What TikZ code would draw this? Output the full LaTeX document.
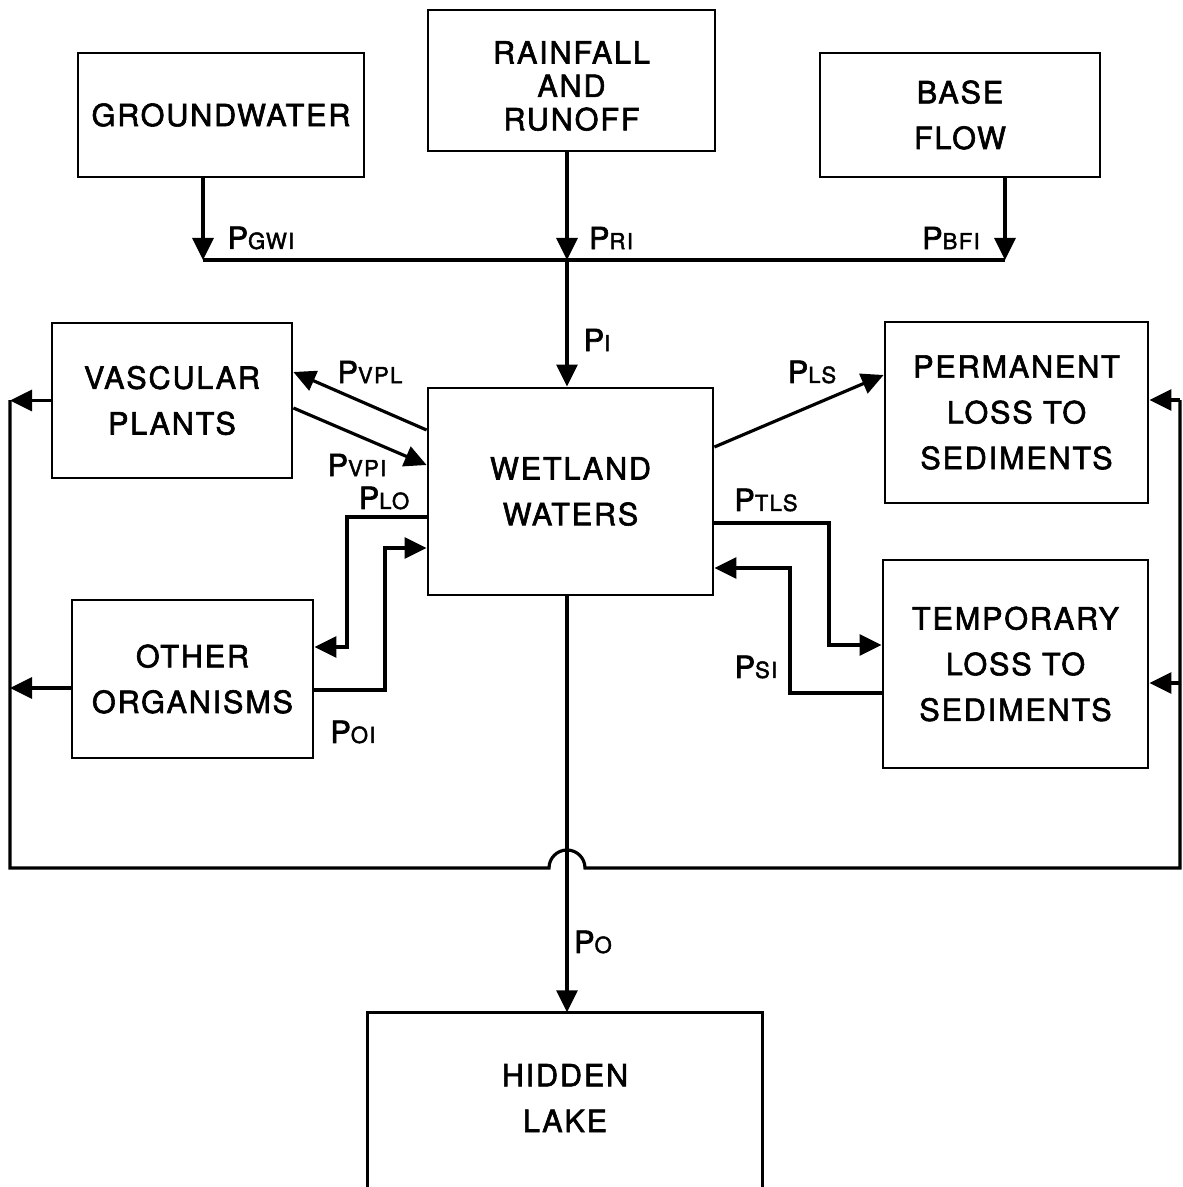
\documentclass[tikz,border=0pt]{standalone}
\usepackage{fontspec}
\setmainfont{TeX Gyre Heros}[FakeBold=2, LetterSpace=6]
\usetikzlibrary{arrows.meta, calc}

\newcommand{\pflow}[1]{P{\fontsize{6.3}{7}\selectfont #1}}

\begin{document}
\begin{tikzpicture}[
  font=\fontsize{8.7}{13}\selectfont,
  box/.style={draw, line width=0.8pt, align=center, inner sep=2pt},
  lbl/.style={inner sep=0pt},
  ln/.style={line width=0.9pt},
  flow/.style={ln, -{Triangle[length=2.2mm, width=2.1mm]}}
]
\path[use as bounding box, clip] (0,0) rectangle (11.82,-11.87);

% ---- sources on top
\node[box, minimum width=2.86cm, minimum height=1.24cm] (gw)   at (2.21,-1.15)  {GROUNDWATER};
\node[box, minimum width=2.87cm, minimum height=1.41cm, text height=28.5pt] (rain) at (5.715,-0.805)
  {RAINFALL\\[-3.5pt]AND\\[-3.5pt]RUNOFF};
\node[box, minimum width=2.80cm, minimum height=1.24cm] (base) at (9.60,-1.15)  {BASE\\FLOW};

% ---- the wetland and its compartments
\node[box, minimum width=2.85cm, minimum height=2.07cm] (wet)   at (5.705,-4.915) {WETLAND\\WATERS};
\node[box, minimum width=2.40cm, minimum height=1.55cm] (vasc)  at (1.72,-4.005)  {VASCULAR\\PLANTS};
\node[box, minimum width=2.41cm, minimum height=1.58cm] (other) at (1.925,-6.79)  {OTHER\\ORGANISMS};
\node[box, minimum width=2.63cm, minimum height=1.81cm] (perm)  at (10.165,-4.125)
  {PERMANENT\\LOSS TO\\SEDIMENTS};
\node[box, minimum width=2.65cm, minimum height=2.08cm] (temp)  at (10.155,-6.64)
  {TEMPORARY\\LOSS TO\\SEDIMENTS};

% ---- the lake, open at the foot of the page
\node[minimum width=3.94cm, minimum height=1.7cm, align=center] (lake) at (5.65,-10.98)
  {HIDDEN\\LAKE};
\draw[line width=0.8pt] ($(lake.south west)+(0,-0.3)$) |- (lake.north) -| ($(lake.south east)+(0,-0.3)$);

% ---- inputs join on one line
\coordinate (jg) at (2.03,-2.60);
\coordinate (jr) at (5.67,-2.60);
\coordinate (jb) at (10.05,-2.60);
\draw[flow] (gw.south -| jg) -- (jg);
\draw[flow] (rain.south -| jr) -- (jr);
\draw[flow] (base.south -| jb) -- (jb);
\draw[ln] (jg) -- (jb);
\draw[flow] (jr) -- (wet.north -| jr);

% ---- exchanges on the left
\draw[flow] (wet.west |- 0,-4.30) -- (vasc.east |- 0,-3.72);
\draw[flow] (vasc.east |- 0,-4.08) -- (wet.west |- 0,-4.65);
\draw[flow] (wet.west |- 0,-5.17) -| (3.47,-6.47) -- (other.east |- 0,-6.47);
\draw[flow] (other.east |- 0,-6.90) -| (3.85,-5.48) -- (wet.west |- 0,-5.48);

% ---- exchanges on the right
\draw[flow] (wet.east |- 0,-4.47) -- (perm.west |- 0,-3.75);
\draw[flow] (wet.east |- 0,-5.23) -| (8.29,-6.45) -- (temp.west |- 0,-6.45);
\draw[flow] (temp.west |- 0,-6.93) -| (7.90,-5.68) -- (wet.east |- 0,-5.68);

% ---- return loop round the outside
\coordinate (lb) at (0.10,-8.68);
\coordinate (rb) at (11.80,-8.68);
\draw[flow] (vasc.west) -- (vasc.west -| lb);
\draw[flow] (other.west |- 0,-6.88) -- (lb |- 0,-6.88);
\draw[ln] (lb |- 0,-4.00) -- (lb) -- (5.49,-8.68) arc[start angle=180, end angle=0, radius=0.18]
  -- (rb) -- (rb |- 0,-4.00);
\draw[flow] (rb |- 0,-4.00) -- (perm.east |- 0,-4.00);
\draw[flow] (rb |- 0,-6.83) -- (temp.east |- 0,-6.83);

% ---- outflow
\draw[flow] (wet.south -| jr) -- (lake.north -| jr);

% ---- flow labels
\node[lbl] (lgwi) at (2.61,-2.38)  {\pflow{GWI}};
\node[lbl] (lri)  at (6.11,-2.38)  {\pflow{RI}};
\node[lbl] (lbfi) at (9.51,-2.38)  {\pflow{BFI}};
\node[lbl] (li)   at (5.97,-3.40)  {\pflow{I}};
\node[lbl] (lvpl) at (3.70,-3.72)  {\pflow{VPL}};
\node[lbl] (lvpi) at (3.57,-4.65)  {\pflow{VPI}};
\node[lbl] (llo)  at (3.84,-4.98)  {\pflow{LO}};
\node[lbl] (loi)  at (3.53,-7.32)  {\pflow{OI}};
\node[lbl] (lls)  at (8.12,-3.72)  {\pflow{LS}};
\node[lbl] (ltls) at (7.66,-5.00)  {\pflow{TLS}};
\node[lbl] (lsi)  at (7.56,-6.67)  {\pflow{SI}};
\node[lbl] (lo)   at (5.93,-9.42)  {\pflow{O}};

\end{tikzpicture}
\end{document}
